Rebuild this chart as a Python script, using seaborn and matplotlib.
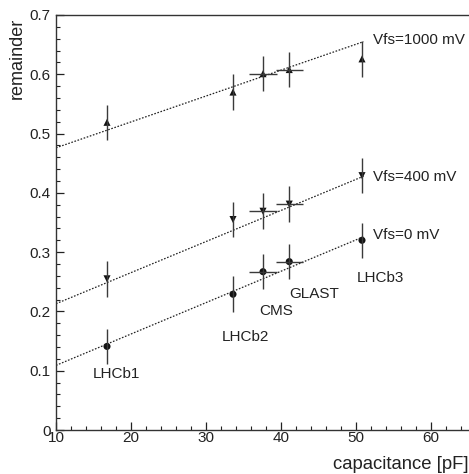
import numpy as np
import pandas as pd
import matplotlib
matplotlib.use("Agg")
import matplotlib.pyplot as plt
from matplotlib.ticker import MultipleLocator
import seaborn as sns

# ---- data ----
detectors = ["LHCb1", "LHCb2", "CMS", "GLAST", "LHCb3"]
capacitance = [16.8, 33.6, 37.6, 41.1, 50.8]
cap_err = [0.0, 0.0, 1.9, 1.8, 0.0]

rem_0mV = [0.141, 0.229, 0.267, 0.284, 0.320]
rem_400mV = [0.255, 0.355, 0.369, 0.381, 0.429]
rem_1000mV = [0.519, 0.570, 0.601, 0.608, 0.626]
rem_err = [0.03, 0.03, 0.03, 0.03, 0.03]

# fitted straight lines (end points)
fit_x = [10.0, 51.0]
fit_0mV = [0.109, 0.326]
fit_400mV = [0.213, 0.428]
fit_1000mV = [0.476, 0.655]

series_names = ["Vfs=0 mV", "Vfs=400 mV", "Vfs=1000 mV"]
label_y = [0.329, 0.427, 0.658]
label_x = 52.2
det_label_x = [18.1, 35.2, 39.3, 44.4, 53.3]
det_label_y = [0.095, 0.157, 0.200, 0.229, 0.256]

sns.set_style("ticks")
plt.rcParams['font.family'] = ['Liberation Sans', 'DejaVu Sans']

fig = plt.figure(figsize=(4.69, 4.74), dpi=100)
ax = fig.add_axes([56 / 469, 44 / 474, 412.5 / 469, 415 / 474])

df = pd.DataFrame({
    "capacitance": capacitance * 3,
    "remainder": rem_0mV + rem_400mV + rem_1000mV,
    "series": [s for s in series_names for _ in capacitance],
})
fits = pd.DataFrame({
    "capacitance": fit_x * 3,
    "remainder": fit_0mV + fit_400mV + fit_1000mV,
    "series": [s for s in series_names for _ in fit_x],
})

# fit lines
for name in series_names:
    sub = fits[fits["series"] == name]
    sns.lineplot(data=sub, x="capacitance", y="remainder", ax=ax,
                 color="#222222", linestyle=(0, (1.3, 1.3)), linewidth=0.9,
                 legend=False)

# error bars
for vals in [rem_0mV, rem_400mV, rem_1000mV]:
    ax.errorbar(capacitance, vals, yerr=rem_err, xerr=cap_err, fmt="none",
                ecolor="#3a3a3a", elinewidth=1.0, capsize=0)

# markers
sns.scatterplot(data=df, x="capacitance", y="remainder", style="series",
                markers={"Vfs=0 mV": "o", "Vfs=400 mV": "v", "Vfs=1000 mV": "^"},
                color="#111111", s=26, edgecolor="none", ax=ax, legend=False)

for name, ly in zip(series_names, label_y):
    ax.text(label_x, ly, name, fontsize=11, color="#222222", va="center", ha="left")
for name, lx, ly in zip(detectors, det_label_x, det_label_y):
    ax.text(lx, ly, name, fontsize=11, color="#222222", va="center", ha="center")

ax.set_xlim(10, 65)
ax.set_ylim(0, 0.7)
ax.xaxis.set_major_locator(MultipleLocator(10))
ax.xaxis.set_minor_locator(MultipleLocator(2))
ax.yaxis.set_major_locator(MultipleLocator(0.1))
ax.yaxis.set_minor_locator(MultipleLocator(0.02))
ax.set_yticks(np.arange(0, 0.71, 0.1))
ax.set_yticklabels(["0", "0.1", "0.2", "0.3", "0.4", "0.5", "0.6", "0.7"])
ax.tick_params(which="major", direction="in", length=6, width=0.9,
               labelsize=11, colors="#222222")
ax.tick_params(which="minor", direction="in", length=3, width=0.8, colors="#222222")
ax.tick_params(axis="y", which="both", pad=4)
ax.tick_params(axis="x", which="both", pad=0.5)

for side in ["left", "bottom", "top"]:
    ax.spines[side].set_color("#333333")
    ax.spines[side].set_linewidth(1.0)
ax.spines["right"].set_visible(False)

ax.set_xlabel("capacitance [pF]", fontsize=13.3, color="#222222")
ax.set_ylabel("remainder", fontsize=13, color="#222222")
ax.xaxis.set_label_coords(1.0, -0.062)
ax.xaxis.label.set_ha("right")
ax.yaxis.set_label_coords(-0.093, 0.993)
ax.yaxis.label.set_ha("right")
ax.yaxis.label.set_va("center")

fig.savefig("out.png", dpi=100)
